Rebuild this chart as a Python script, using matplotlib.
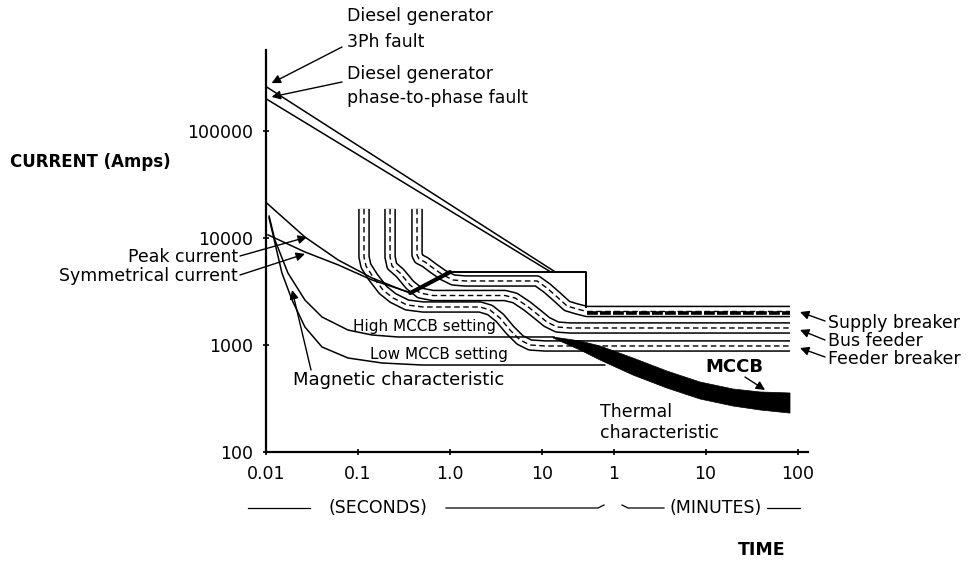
import matplotlib
matplotlib.use('Agg')
import matplotlib.pyplot as plt
from matplotlib.lines import Line2D
import numpy as np

# ---------------- data (time in s, current in A) ----------------
dg3ph_t = [0.01, 14.0]
dg3ph_i = [260000, 4800]
dgpp_t = [0.01, 12.5]
dgpp_i = [200000, 4800]

peak_t = [0.01, 0.0265, 0.061, 0.142, 0.30, 0.37]
peak_i = [21500, 10200, 6220, 4230, 3270, 3060]
sym_t = [0.0105, 0.0265, 0.061, 0.142, 0.35]
sym_i = [10700, 7400, 5600, 4050, 3130]

link_t = [0.37, 1.0]
link_i = [3060, 4800]
box_t = [1.0, 30.0, 30.0]
box_i = [4800, 4800, 2265]

high_t = [0.0108, 0.0125, 0.0173, 0.0265, 0.0406, 0.0778, 0.142, 0.272, 13.5]
high_i = [16000, 9580, 4710, 2630, 1827, 1380, 1240, 1188, 1188]
low_t = [0.0108, 0.0125, 0.0149, 0.0192, 0.0265, 0.0406, 0.0778, 0.182, 0.496, 48]
low_i = [15400, 8980, 4710, 2630, 1472, 958, 756, 679, 650, 650]

feeder_t = [0.1162, 0.1162, 0.1222, 0.1455, 0.187, 0.240, 0.341, 0.509, 2.12, 2.72, 3.49, 4.49, 5.77, 7.41, 10.8, 4960]
feeder_i = [18700, 6640, 5470, 4320, 3266, 2750, 2365, 2265, 2265, 2123, 1788, 1380, 1114, 1000, 979, 979]
bus_t = [0.223, 0.223, 0.234, 0.286, 0.367, 0.472, 0.653, 3.96, 5.09, 6.87, 8.83, 11.3, 14.6, 20.1, 4960]
bus_i = [18700, 6640, 5470, 4710, 3638, 3060, 2900, 2900, 2750, 2315, 1950, 1640, 1472, 1442, 1442]
sup_t = [0.438, 0.438, 0.46, 0.535, 0.653, 0.839, 1.08, 1.46, 8.83, 11.3, 14.6, 18.7, 24.0, 30.8, 4960]
sup_i = [18700, 6935, 6370, 5966, 5244, 4510, 4050, 3965, 3965, 3410, 2810, 2315, 2170, 2056, 2056]
sup_heavy_t = [30.8, 4960]
sup_heavy_i = [1985, 1985]

therm_t = [13.2, 25.9, 42.7, 97.5, 228, 521, 1190, 2344, 4960]
therm_top = [1188, 1090, 979, 756, 571, 451, 388, 364, 356]
therm_bot = [1163, 898, 724, 524, 396, 313, 269, 247, 231]

xticks = [0.01, 0.1, 1, 10, 60, 600, 6000]
xticklabels = ['0.01', '0.1', '1.0', '10', '1', '10', '100']
yticks = [100, 1000, 10000, 100000]
yticklabels = ['100', '1000', '10000', '100000']

# ---------------- figure ----------------
W, H = 974, 564
fig = plt.figure(figsize=(W / 100, H / 100), dpi=100)
plt.rcParams['font.family'] = ['DejaVu Sans']

def P(x, y):
    return (x / W, 1 - y / H)

ax = fig.add_axes([266 / W, (H - 452) / H, 542 / W, 402 / H])
ax.set_xscale('log')
ax.set_yscale('log')
ax.set_xlim(0.01, 7780)
ax.set_ylim(100, 5.71e5)
for s in ['top', 'right']:
    ax.spines[s].set_visible(False)
for s in ['left', 'bottom']:
    ax.spines[s].set_linewidth(1.6)
ax.set_xticks(xticks)
ax.set_xticklabels(xticklabels, fontsize=12.5)
ax.set_yticks(yticks)
ax.set_yticklabels(yticklabels, fontsize=12.5)
ax.minorticks_off()
ax.tick_params(axis='both', direction='inout', length=5, width=1.2, pad=7)
ax.set_facecolor('white')

lw = 1.1
# breaker bands: outer solid lines + dashed centre
for bt, bi in [(feeder_t, feeder_i), (bus_t, bus_i), (sup_t, sup_i)]:
    ax.plot(bt, bi, color='black', lw=8.4, solid_capstyle='butt', solid_joinstyle='round', zorder=2)
    ax.plot(bt, bi, color='white', lw=6.2, solid_capstyle='butt', solid_joinstyle='round', zorder=2.1)
    ax.plot(bt, bi, color='black', lw=1.0, dashes=(4, 2.5), zorder=2.2)
# heavy lower part of supply breaker band on the right
ax.plot(sup_heavy_t, sup_heavy_i, color='black', lw=2.6, dashes=(3, 0.6), zorder=2.3)

# thermal characteristic (filled band)
ax.fill(np.concatenate([therm_t, therm_t[::-1]]),
        np.concatenate([therm_top, therm_bot[::-1]]), color='black', lw=0.5, zorder=3)

# curves
ax.plot(dg3ph_t, dg3ph_i, color='black', lw=lw, zorder=4)
ax.plot(dgpp_t, dgpp_i, color='black', lw=lw, zorder=4)
ax.plot(peak_t, peak_i, color='black', lw=lw, zorder=4)
ax.plot(sym_t, sym_i, color='black', lw=lw, zorder=4)
ax.plot(high_t, high_i, color='black', lw=lw, zorder=4)
ax.plot(low_t, low_i, color='black', lw=lw, zorder=4)
ax.plot(link_t, link_i, color='black', lw=3.0, solid_capstyle='round', zorder=4)
ax.plot(box_t, box_i, color='black', lw=1.4, zorder=4)

# ---------------- text ----------------
fs = 12.5
def T(x, y, s, **kw):
    kw.setdefault('fontsize', fs)
    kw.setdefault('va', 'center')
    fig.text(*P(x, y), s, **kw)

T(347, 21, 'Diesel generator', va='baseline')
T(347, 47, '3Ph fault', va='baseline')
T(347, 79, 'Diesel generator', va='baseline')
T(347, 103, 'phase-to-phase fault', va='baseline')
T(10, 162, 'CURRENT (Amps)', fontweight='bold', fontsize=12)
T(238, 257, 'Peak current', ha='right')
T(238, 276, 'Symmetrical current', ha='right')
T(293, 380, 'Magnetic characteristic', fontsize=13)
T(353, 327, 'High MCCB setting', fontsize=11)
T(370, 355, 'Low MCCB setting', fontsize=11)
T(705, 367, 'MCCB', fontweight='bold', fontsize=13)
T(600, 412, 'Thermal', fontsize=12.5)
T(600, 433, 'characteristic', fontsize=12.5)
T(828, 323, 'Supply breaker', fontsize=12.5)
T(828, 341, 'Bus feeder', fontsize=12.5)
T(828, 359, 'Feeder breaker', fontsize=12.5)
T(378, 508, '(SECONDS)', ha='center', fontsize=12.5)
T(716, 508, '(MINUTES)', ha='center', fontsize=12.5)
T(762, 550, 'TIME', ha='center', fontweight='bold', fontsize=12.5)

def L(pts, lwid=0.9):
    xs = [p[0] / W for p in pts]
    ys = [1 - p[1] / H for p in pts]
    fig.add_artist(Line2D(xs, ys, color='black', lw=lwid, transform=fig.transFigure))

L([(248, 508), (310, 508)])
L([(446, 508), (598, 508), (604, 505)])
L([(622, 505), (628, 508), (664, 508)])
L([(767, 508), (800, 508)])

# ---------------- arrows ----------------
ap = dict(arrowstyle='-|>', color='black', lw=1.0, mutation_scale=13, shrinkA=0, shrinkB=0)
def A(xy, tail):
    ax.annotate('', xy=xy, xycoords='data', xytext=P(*tail), textcoords='figure fraction',
                arrowprops=ap, zorder=6, annotation_clip=False)

A((0.0115, 2.8e5), (342, 47))
A((0.0115, 2.08e5), (342, 82))
A((0.0279, 10200), (240, 256))
A((0.0265, 7100), (240, 275))
A((0.0192, 3266), (311, 370))
A((2655, 380), (745, 377))
A((6370, 2033), (825, 321))
A((6370, 1383), (825, 340))
A((6370, 937), (825, 357))

fig.savefig('out.png', dpi=100, facecolor='white')
